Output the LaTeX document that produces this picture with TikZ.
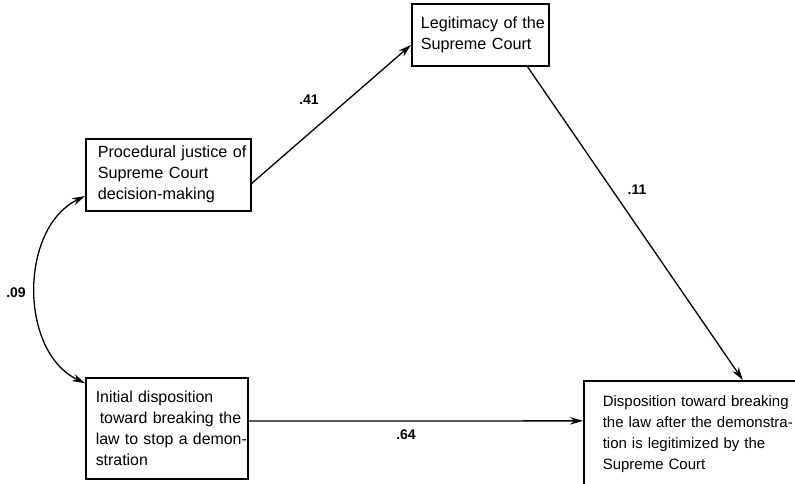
\documentclass[tikz,border=0pt]{standalone}
\usepackage{fontspec}
\setmainfont{Liberation Sans}
\usetikzlibrary{arrows.meta,calc}
\newcommand\Lline[1]{\mbox{#1}}
\begin{document}
\begin{tikzpicture}[x=1pt,y=-1pt,
  box/.style={draw,line width=1.5pt,anchor=north west,align=left,
    font=\fontsize{16.2}{21}\selectfont},
  lbl/.style={font=\fontsize{14}{16}\selectfont\bfseries},
  arr/.style={line width=1.3pt,-{Stealth[length=13pt,width=7.5pt]}}]
\useasboundingbox (0,0) rectangle (795,483);
\node[box,minimum height=72pt,text width=141pt,inner xsep=12pt] (b1) at (85,138)
  {\Lline{Procedural justice of}\\\Lline{Supreme Court}\\\Lline{decision-making}};
\node[box,minimum height=62pt,text width=119pt,inner xsep=9pt] (b2) at (411,3)
  {\Lline{Legitimacy of the}\\\Lline{Supreme Court}};
\node[box,minimum height=101pt,text width=142pt,inner xsep=10pt,
  font=\fontsize{15.9}{21}\selectfont] (b3) at (85,377)
  {\Lline{Initial disposition}\\\Lline{\hspace*{4pt}toward breaking the}\\\Lline{law to stop a demon-}\\\Lline{stration}};
\node[box,minimum height=106pt,text width=199pt,inner xsep=19pt,
  font=\fontsize{15}{21}\selectfont] (b4) at (583,380)
  {\Lline{Disposition toward breaking}\\\Lline{the law after the demonstra-}\\\Lline{tion is legitimized by the}\\\Lline{Supreme Court}};
% connectors
\coordinate (s1) at ($(b1.north east)!0.62!(b1.south east)$);
\coordinate (e1) at ($(b2.north west)!0.66!(b2.south west)$);
\draw[arr] (s1) -- (e1);
\coordinate (s2) at ($(b2.south west)!0.84!(b2.south east)$);
\coordinate (e2) at ($(b4.north west)!0.67!(b4.north east)$);
\draw[arr] (s2) -- (e2);
\coordinate (s3) at ($(b3.north east)!0.43!(b3.south east)$);
\coordinate (e3) at ($(b4.north west)!0.38!(b4.south west)$);
\draw[arr] (s3) -- (e3);
\coordinate (c1) at ($(b1.north west)!0.79!(b1.south west)$);
\coordinate (c3) at ($(b3.north west)!0.06!(b3.south west)$);
\draw[line width=1.3pt,{Stealth[length=13pt,width=7.5pt]}-{Stealth[length=13pt,width=7.5pt]}]
  (c1) .. controls (19,228) and (19,352) .. (c3);
% labels
\node[lbl] (l41) at (309,100) {.41};
\node[lbl] (l11) at (637,190) {.11};
\node[lbl] (l64) at (406,435) {.64};
\node[lbl] (l09) at (16,293) {.09};
\end{tikzpicture}
\end{document}
